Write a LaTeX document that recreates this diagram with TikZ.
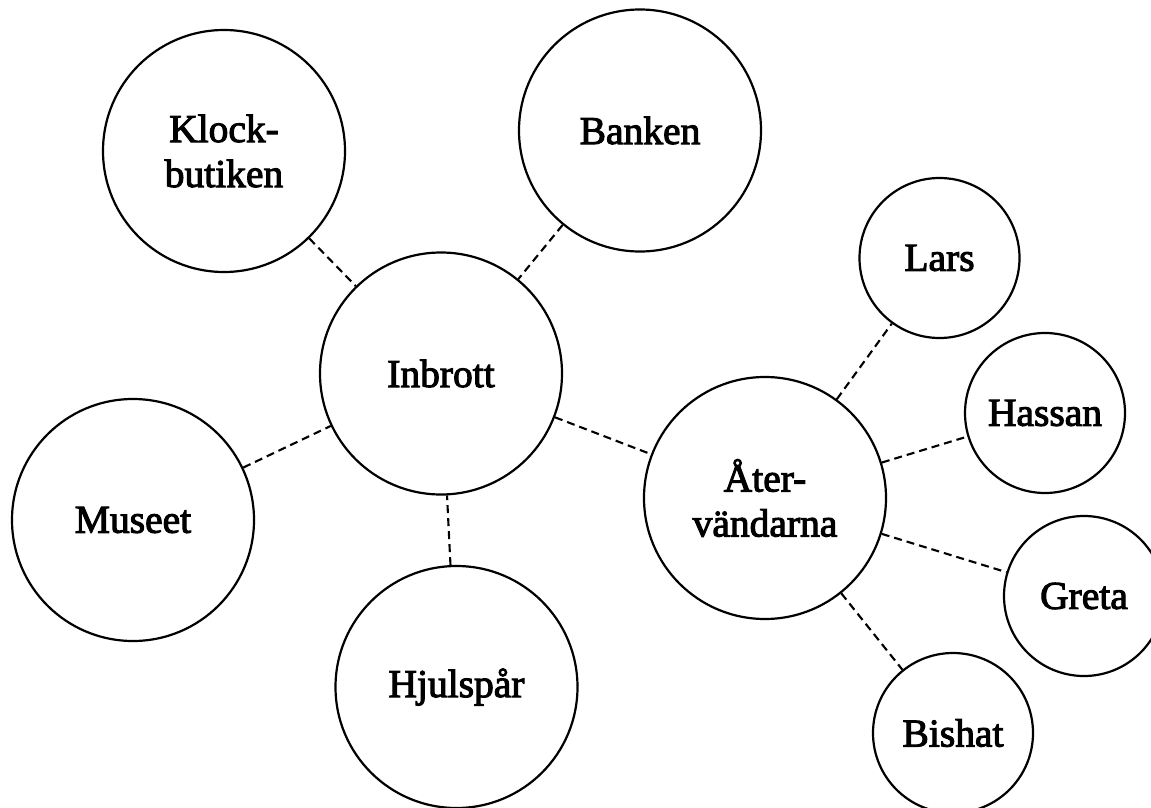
\documentclass[tikz,border=0pt]{standalone}
\usepackage{fontspec}
\setmainfont{Liberation Serif}
\newfontfamily\lblfont{Liberation Serif}[FakeBold=2.6]
\begin{document}
\begin{tikzpicture}[x=1pt,y=-1pt,
  bigc/.style={circle,draw,line width=2.2pt,minimum size=242pt,inner sep=0pt,align=center,
    font=\lblfont\fontsize{39.5}{45}\selectfont},
  smallc/.style={circle,draw,line width=2.2pt,minimum size=160pt,inner sep=0pt,align=center,
    font=\lblfont\fontsize{39.5}{45}\selectfont},
  link/.style={line width=2.1pt,dash pattern=on 8pt off 5pt}]
\useasboundingbox (0,0) rectangle (1151,808);
\clip (0,0) rectangle (1151,808);
\node[bigc] (klock) at (224,151) {Klock-\\butiken};
\node[bigc] (bank) at (640,130.5) {Banken};
\node[bigc] (inb) at (441,373.5) {Inbrott};
\node[bigc] (mus) at (133,520) {Museet};
\node[bigc] (hjul) at (456.5,687) {Hjulspår};
\node[bigc] (ater) at (765,498) {Åter-\\vändarna};
\node[smallc] (lars) at (939.5,258) {Lars};
\node[smallc] (hass) at (1045,413) {Hassan};
\node[smallc] (gret) at (1084,596) {Greta};
\node[smallc] (bish) at (953,733) {Bishat};
\draw[link] (klock) -- (inb);
\draw[link] (bank) -- (inb);
\draw[link] (mus) -- (inb);
\draw[link] (hjul) -- (inb);
\draw[link] (inb) -- (ater);
\draw[link] (ater) -- (lars);
\draw[link] (ater) -- (hass);
\draw[link] (ater) -- (gret);
\draw[link] (ater) -- (bish);
\end{tikzpicture}
\end{document}
